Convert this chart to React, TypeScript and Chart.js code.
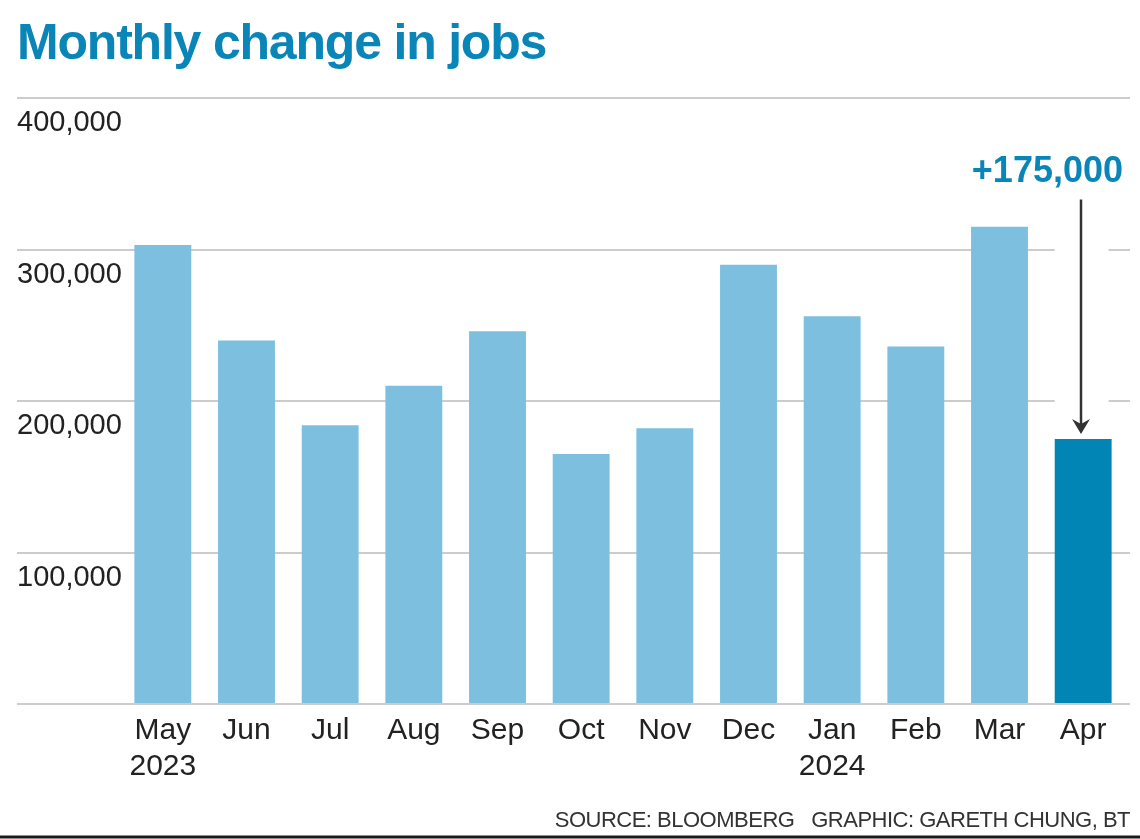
import React, { useEffect, useRef } from 'react';
import { Chart, registerables } from 'chart.js';

Chart.register(...registerables);

// ---- data ----
const months: (string | string[])[] = [
  ['May', '2023'], 'Jun', 'Jul', 'Aug', 'Sep', 'Oct', 'Nov', 'Dec',
  ['Jan', '2024'], 'Feb', 'Mar', 'Apr',
];
const jobs = [303000, 240000, 184000, 210000, 246000, 165000, 182000, 290000, 256000, 236000, 315000, 175000];
const yTicks = [0, 100000, 200000, 300000, 400000];
const highlightIndex = 11;
const annotationLabel = '+175,000';
const annotationTextValue = 351000;
const arrowTopValue = 333000;

const LIGHT = '#7dbfdf';
const DARK = '#0085b5';
const TEAL = '#0a85b7';
const GRID = '#cccccc';
const FONT = '"Liberation Sans", Arial, sans-serif';

const W = 1140;
const H = 839;
const Y_AXIS_W = 104;

const decorPlugin = {
  id: 'decor',
  beforeDatasetsDraw(chart: any) {
    const { ctx, chartArea, scales } = chart;
    const y = scales.y;
    const meta = chart.getDatasetMeta(0);
    const bar = meta.data[highlightIndex];
    const gapL = bar.x - bar.width / 2;
    const gapR = bar.x + bar.width / 2;
    const arrowTop = y.getPixelForValue(arrowTopValue);
    const x0 = 17;
    const x1 = chartArea.right + 5;
    ctx.save();
    ctx.strokeStyle = GRID;
    ctx.lineWidth = 2;
    y.ticks.forEach((t: any) => {
      if (t.value === 0) return;
      const py = Math.round(y.getPixelForValue(t.value));
      ctx.beginPath();
      if (py > arrowTop - 12 && py < bar.y) {
        ctx.moveTo(x0, py);
        ctx.lineTo(gapL, py);
        ctx.moveTo(gapR - 3, py);
        ctx.lineTo(x1, py);
      } else {
        ctx.moveTo(x0, py);
        ctx.lineTo(x1, py);
      }
      ctx.stroke();
    });
    ctx.restore();
  },
  afterDatasetsDraw(chart: any) {
    const { ctx, chartArea, scales } = chart;
    const y = scales.y;
    const meta = chart.getDatasetMeta(0);
    const bar = meta.data[highlightIndex];
    ctx.save();
    // baseline
    const by = Math.round(y.getPixelForValue(0));
    ctx.strokeStyle = GRID;
    ctx.lineWidth = 2;
    ctx.beginPath();
    ctx.moveTo(17, by);
    ctx.lineTo(chartArea.right + 5, by);
    ctx.stroke();

    // arrow
    const ax = Math.round(bar.x) - 2;
    const top = y.getPixelForValue(arrowTopValue);
    const tip = bar.y - 5;
    ctx.strokeStyle = '#333333';
    ctx.fillStyle = '#333333';
    ctx.lineWidth = 2.5;
    ctx.beginPath();
    ctx.moveTo(ax, top);
    ctx.lineTo(ax, tip - 8);
    ctx.stroke();
    ctx.beginPath();
    ctx.moveTo(ax, tip);
    ctx.lineTo(ax - 9, tip - 15);
    ctx.lineTo(ax, tip - 10);
    ctx.lineTo(ax + 9, tip - 15);
    ctx.closePath();
    ctx.fill();

    // annotation text
    ctx.fillStyle = TEAL;
    ctx.font = `bold 36px ${FONT}`;
    ctx.textAlign = 'right';
    ctx.textBaseline = 'middle';
    ctx.fillText(annotationLabel, chartArea.right - 2, y.getPixelForValue(annotationTextValue));

    // bottom rule
    ctx.strokeStyle = '#1a1a1a';
    ctx.lineWidth = 3;
    ctx.beginPath();
    ctx.moveTo(0, chart.height - 2);
    ctx.lineTo(chart.width, chart.height - 2);
    ctx.stroke();
    ctx.restore();
  },
};

export default function App() {
  const ref = useRef<HTMLCanvasElement | null>(null);

  useEffect(() => {
    if (!ref.current) return;
    const chart = new Chart(ref.current, {
      type: 'bar',
      data: {
        labels: months,
        datasets: [
          {
            data: jobs,
            backgroundColor: jobs.map((_, i) => (i === highlightIndex ? DARK : LIGHT)),
            borderWidth: 0,
            categoryPercentage: 1,
            barPercentage: 0.68,
          },
        ],
      },
      options: {
        animation: false,
        responsive: false,
        maintainAspectRatio: false,
        devicePixelRatio: 1,
        layout: { padding: { left: 17, top: 98, right: 15, bottom: 0 } },
        plugins: {
          legend: { display: false },
          tooltip: { enabled: false },
          title: { display: false },
        },
        scales: {
          x: {
            offset: true,
            grid: { display: false },
            border: { display: false },
            ticks: {
              color: '#222222',
              font: { family: FONT, size: 30, lineHeight: 1.22 },
              padding: 0,
              autoSkip: false,
              maxRotation: 0,
              minRotation: 0,
            },
            afterFit: (s: any) => {
              s.height = 135;
            },
          },
          y: {
            min: 0,
            max: 400000,
            grid: { display: false },
            border: { display: false },
            afterBuildTicks: (s: any) => {
              s.ticks = yTicks.map((v) => ({ value: v }));
            },
            ticks: {
              mirror: true,
              labelOffset: 25,
              crossAlign: 'near',
              padding: -Y_AXIS_W,
              color: '#222222',
              font: { family: FONT, size: 29 },
              callback: (v: any) => (Number(v) === 0 ? '' : Number(v).toLocaleString('en-US')),
            },
            afterFit: (s: any) => {
              s.width = Y_AXIS_W;
            },
          },
        },
      } as any,
      plugins: [decorPlugin],
    });
    return () => chart.destroy();
  }, []);

  return (
    <div style={{ position: 'fixed', left: 0, top: 0, width: W, height: H, background: '#fff', overflow: 'hidden' }}>
      <canvas ref={ref} width={W} height={H} style={{ position: 'absolute', left: 0, top: 0, width: W, height: H }} />
      <div
        style={{
          position: 'absolute',
          left: 17,
          top: 17,
          fontFamily: FONT,
          fontWeight: 700,
          fontSize: 50,
          lineHeight: '50px',
          letterSpacing: '-1.2px',
          color: TEAL,
          whiteSpace: 'nowrap',
        }}
      >
        Monthly change in jobs
      </div>
      <div
        style={{
          position: 'absolute',
          right: 10,
          top: 809,
          fontFamily: FONT,
          fontSize: 22,
          lineHeight: '22px',
          letterSpacing: '-0.5px',
          color: '#333333',
          whiteSpace: 'nowrap',
        }}
      >
        SOURCE: BLOOMBERG&nbsp;&nbsp;&nbsp;GRAPHIC: GARETH CHUNG, BT
      </div>
    </div>
  );
}
